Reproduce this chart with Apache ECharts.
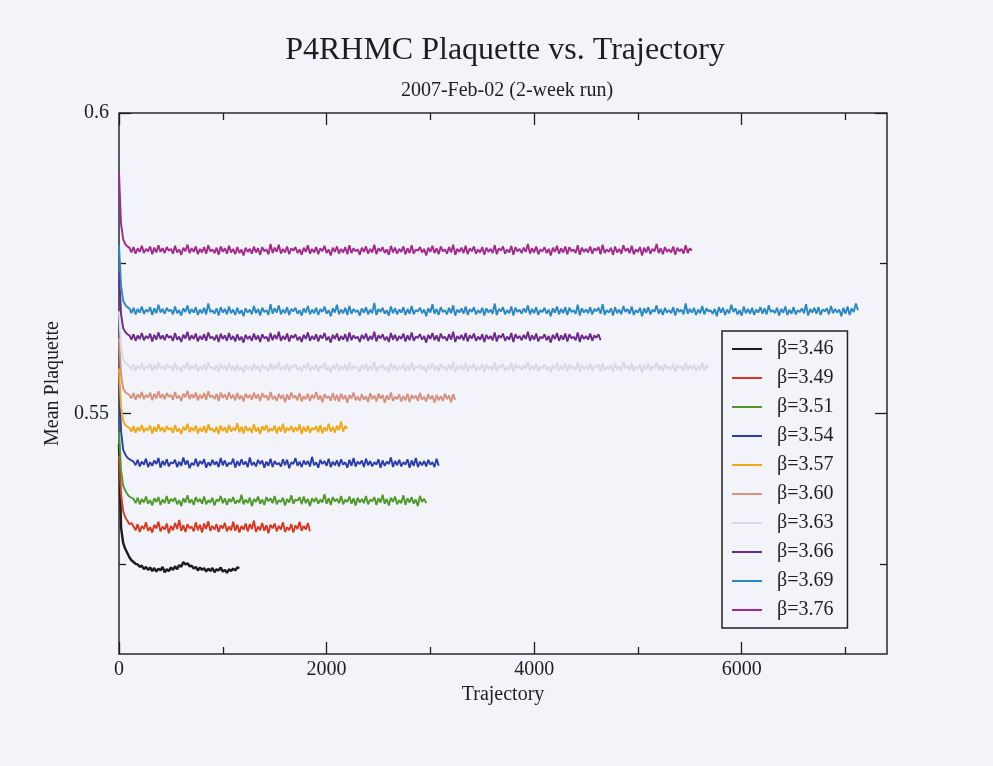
<!DOCTYPE html>
<html><head><meta charset="utf-8">
<script src="https://cdn.jsdelivr.net/npm/echarts@6/dist/echarts.min.js"></script>
<style>html,body{margin:0;padding:0;background:#f3f4f9;}#c{width:993px;height:766px;}</style>
</head><body><div id="c"></div>
<script>
// Trajectory step between stored samples
const STEP = 20;
const seriesNames = ['β=3.46','β=3.49','β=3.51','β=3.54','β=3.57','β=3.60','β=3.63','β=3.66','β=3.69','β=3.76'];
const seriesColors = ['#1c1c1c','#d9381e','#4f9a2c','#2a3cae','#f0a816','#d8917f','#d9d9e6','#6c2a8e','#2b88c6','#a3298c'];

const b346 = [0.5450,0.5310,0.5285,0.5275,0.5268,0.5261,0.5256,0.5253,0.5250,0.5249,0.5245,0.5247,0.5241,0.5245,0.5240,
0.5244,0.5238,0.5243,0.5237,0.5242,0.5239,0.5245,0.5236,0.5241,0.5238,
0.5244,0.5240,0.5246,0.5241,0.5248,0.5245,0.5253,0.5249,0.5251,0.5246,
0.5247,0.5242,0.5245,0.5239,0.5244,0.5240,0.5243,0.5237,0.5242,0.5238,
0.5243,0.5236,0.5241,0.5239,0.5244,0.5237,0.5240,0.5235,0.5241,0.5238,
0.5242,0.5239,0.5244,0.5243];

const b349 = [0.5430,0.5365,0.5338,0.5327,0.5322,0.5316,0.5318,0.5312,
0.5306,0.5316,0.5303,0.5313,0.5308,0.5319,0.5305,0.5311,0.5302,0.5315,
0.5309,0.5320,0.5304,0.5312,0.5307,0.5317,0.5301,0.5313,0.5306,0.5318,
0.5308,0.5323,0.5305,0.5314,0.5303,0.5316,0.5309,0.5312,0.5304,0.5319,
0.5306,0.5315,0.5302,0.5317,0.5308,0.5321,0.5305,0.5313,0.5307,0.5316,
0.5303,0.5314,0.5309,0.5318,0.5304,0.5312,0.5306,0.5320,0.5305,0.5315,
0.5302,0.5313,0.5307,0.5317,0.5304,0.5316,0.5308,0.5322,0.5303,0.5312,
0.5306,0.5318,0.5305,0.5314,0.5301,0.5315,0.5309,0.5317,0.5304,0.5313,
0.5307,0.5319,0.5303,0.5311,0.5306,0.5316,0.5302,0.5314,0.5308,0.5320,
0.5305,0.5313,0.5307,0.5318,0.5304];

const b351 = [0.5470,0.5405,0.5380,0.5372,0.5366,0.5362,0.5360,0.5358,
0.5351,0.5360,0.5349,0.5358,0.5352,0.5362,0.5350,0.5356,0.5347,0.5359,
0.5353,0.5361,0.5348,0.5357,0.5351,0.5363,0.5350,0.5358,0.5354,0.5360,
0.5349,0.5356,0.5346,0.5359,0.5352,0.5364,0.5351,0.5357,0.5348,0.5361,
0.5353,0.5358,0.5350,0.5362,0.5349,0.5356,0.5352,0.5360,0.5347,0.5357,
0.5354,0.5363,0.5351,0.5359,0.5348,0.5358,0.5353,0.5361,0.5350,0.5356,
0.5352,0.5365,0.5349,0.5357,0.5351,0.5360,0.5346,0.5358,0.5353,0.5362,
0.5350,0.5357,0.5348,0.5361,0.5354,0.5359,0.5351,0.5363,0.5349,0.5356,
0.5353,0.5360,0.5347,0.5358,0.5352,0.5364,0.5350,0.5357,0.5355,0.5361,
0.5349,0.5362,0.5351,0.5358,0.5346,0.5359,0.5353,0.5360,0.5350,0.5357,
0.5352,0.5366,0.5350,0.5359,0.5348,0.5361,0.5354,0.5358,0.5351,0.5363,
0.5349,0.5357,0.5353,0.5362,0.5350,0.5359,0.5347,0.5360,0.5352,0.5358,
0.5351,0.5363,0.5349,0.5357,0.5354,0.5361,0.5348,0.5359,0.5352,0.5365,
0.5350,0.5358,0.5347,0.5360,0.5353,0.5362,0.5349,0.5356,0.5351,0.5364,
0.5348,0.5359,0.5352,0.5361,0.5350,0.5357,0.5346,0.5363,0.5353,0.5358,
0.5351];

const b354 = [0.5550,0.5470,0.5440,0.5432,0.5427,0.5424,0.5422,0.5420,
0.5414,0.5423,0.5412,0.5420,0.5415,0.5425,0.5411,0.5419,0.5413,0.5422,
0.5416,0.5426,0.5410,0.5421,0.5414,0.5424,0.5412,0.5419,0.5417,0.5423,
0.5411,0.5420,0.5413,0.5427,0.5415,0.5422,0.5409,0.5418,0.5414,0.5425,
0.5412,0.5421,0.5416,0.5424,0.5410,0.5419,0.5413,0.5423,0.5415,0.5420,
0.5411,0.5426,0.5414,0.5422,0.5412,0.5418,0.5416,0.5425,0.5410,0.5421,
0.5413,0.5424,0.5415,0.5420,0.5411,0.5427,0.5414,0.5419,0.5412,0.5423,
0.5416,0.5422,0.5410,0.5420,0.5413,0.5425,0.5411,0.5421,0.5415,0.5418,
0.5412,0.5424,0.5414,0.5423,0.5409,0.5419,0.5416,0.5426,0.5413,0.5420,
0.5411,0.5422,0.5415,0.5421,0.5412,0.5428,0.5414,0.5419,0.5410,0.5423,
0.5416,0.5421,0.5413,0.5425,0.5411,0.5420,0.5414,0.5422,0.5412,0.5424,
0.5415,0.5419,0.5410,0.5423,0.5413,0.5426,0.5412,0.5420,0.5416,0.5422,
0.5411,0.5425,0.5414,0.5421,0.5412,0.5419,0.5415,0.5424,0.5410,0.5422,
0.5413,0.5420,0.5416,0.5427,0.5411,0.5421,0.5414,0.5423,0.5412,0.5419,
0.5415,0.5424,0.5410,0.5422,0.5413,0.5426,0.5411,0.5420,0.5414,0.5421,
0.5412,0.5423,0.5415,0.5419,0.5411,0.5425,0.5413];

const b357 = [0.5575,0.5510,0.5488,0.5481,0.5478,0.5476,
0.5470,0.5479,0.5468,0.5477,0.5471,0.5481,0.5469,0.5476,0.5472,0.5480,
0.5467,0.5478,0.5470,0.5482,0.5471,0.5477,0.5469,0.5479,0.5473,0.5476,
0.5468,0.5481,0.5470,0.5475,0.5466,0.5478,0.5472,0.5483,0.5469,0.5477,
0.5471,0.5480,0.5467,0.5476,0.5470,0.5479,0.5468,0.5482,0.5472,0.5475,
0.5469,0.5478,0.5466,0.5480,0.5471,0.5477,0.5468,0.5481,0.5470,0.5476,
0.5472,0.5484,0.5469,0.5478,0.5467,0.5479,0.5471,0.5476,0.5468,0.5482,
0.5470,0.5477,0.5466,0.5479,0.5472,0.5481,0.5469,0.5475,0.5471,0.5480,
0.5467,0.5478,0.5470,0.5483,0.5468,0.5476,0.5472,0.5479,0.5469,0.5477,
0.5471,0.5482,0.5466,0.5478,0.5470,0.5480,0.5468,0.5476,0.5473,0.5479,
0.5469,0.5481,0.5467,0.5477,0.5471,0.5483,0.5470,0.5478,0.5468,0.5480,
0.5472,0.5487,0.5470,0.5479,0.5475];

const b360 = [0.5625,0.5565,0.5542,0.5536,0.5533,0.5531,
0.5525,0.5534,0.5523,0.5532,0.5526,0.5536,0.5524,0.5531,0.5527,0.5535,
0.5522,0.5533,0.5525,0.5537,0.5526,0.5532,0.5524,0.5534,0.5528,0.5531,
0.5523,0.5536,0.5525,0.5530,0.5521,0.5533,0.5527,0.5538,0.5524,0.5532,
0.5526,0.5535,0.5522,0.5531,0.5525,0.5534,0.5523,0.5537,0.5527,0.5530,
0.5524,0.5533,0.5521,0.5535,0.5526,0.5532,0.5523,0.5536,0.5525,0.5531,
0.5522,0.5534,0.5524,0.5530,0.5520,0.5533,0.5526,0.5531,0.5523,0.5535,
0.5525,0.5532,0.5521,0.5534,0.5527,0.5530,0.5522,0.5536,0.5524,0.5529,
0.5521,0.5533,0.5525,0.5531,0.5519,0.5532,0.5523,0.5535,0.5526,0.5530,
0.5522,0.5534,0.5520,0.5529,0.5524,0.5533,0.5521,0.5531,0.5525,0.5536,
0.5523,0.5530,0.5519,0.5532,0.5526,0.5529,0.5521,0.5534,0.5522,0.5531,
0.5520,0.5533,0.5524,0.5530,0.5518,0.5531,0.5525,0.5535,0.5522,0.5528,
0.5521,0.5532,0.5523,0.5529,0.5519,0.5534,0.5524,0.5530,0.5520,0.5533,
0.5525,0.5531,0.5518,0.5530,0.5523,0.5535,0.5521,0.5528,0.5524,0.5532,
0.5520,0.5529,0.5522,0.5533,0.5519,0.5531,0.5525,0.5530,0.5521,0.5534,
0.5523,0.5528,0.5520,0.5532,0.5524,0.5530,0.5518,0.5531,0.5522,0.5529,
0.5521,0.5533,0.5524,0.5530,0.5519,0.5532,0.5523];

const b363 = [0.5670,0.5610,0.5590,0.5584,0.5581,0.5579,
0.5573,0.5582,0.5571,0.5580,0.5574,0.5584,0.5572,0.5579,0.5575,0.5583,
0.5570,0.5581,0.5573,0.5585,0.5574,0.5580,0.5572,0.5582,0.5576,0.5579,
0.5571,0.5584,0.5573,0.5578,0.5569,0.5581,0.5575,0.5586,0.5572,0.5580,
0.5574,0.5583,0.5570,0.5579,0.5573,0.5582,0.5571,0.5585,0.5575,0.5578,
0.5572,0.5581,0.5569,0.5583,0.5574,0.5580,0.5571,0.5584,0.5573,0.5579,
0.5570,0.5582,0.5572,0.5578,0.5568,0.5581,0.5574,0.5579,0.5571,0.5583,
0.5573,0.5580,0.5569,0.5582,0.5575,0.5578,0.5570,0.5584,0.5572,0.5581,
0.5574,0.5586,0.5571,0.5579,0.5573,0.5583,0.5570,0.5580,0.5576,0.5582,
0.5572,0.5578,0.5569,0.5581,0.5574,0.5585,0.5571,0.5579,0.5573,0.5582,
0.5570,0.5580,0.5575,0.5584,0.5572,0.5578,0.5568,0.5581,0.5574,0.5583,
0.5571,0.5579,0.5573,0.5582,0.5570,0.5585,0.5572,0.5580,0.5575,0.5578,
0.5569,0.5581,0.5574,0.5583,0.5571,0.5579,0.5573,0.5586,0.5570,0.5580,
0.5575,0.5582,0.5572,0.5578,0.5569,0.5584,0.5573,0.5581,0.5571,0.5579,
0.5574,0.5583,0.5570,0.5580,0.5572,0.5585,0.5571,0.5578,0.5576,0.5582,
0.5573,0.5579,0.5568,0.5581,0.5574,0.5584,0.5572,0.5580,0.5570,0.5583,
0.5575,0.5578,0.5571,0.5582,0.5573,0.5586,0.5569,0.5579,0.5574,0.5581,
0.5572,0.5584,0.5570,0.5580,0.5575,0.5583,0.5571,0.5578,0.5573,0.5582,
0.5569,0.5581,0.5574,0.5579,0.5572,0.5585,0.5570,0.5580,0.5576,0.5583,
0.5571,0.5578,0.5573,0.5584,0.5569,0.5582,0.5575,0.5579,0.5572,0.5581,
0.5574,0.5586,0.5571,0.5580,0.5573,0.5583,0.5570,0.5578,0.5575,0.5582,
0.5572,0.5579,0.5568,0.5581,0.5574,0.5584,0.5571,0.5580,0.5573,0.5583,
0.5570,0.5582,0.5575,0.5578,0.5572,0.5585,0.5569,0.5581,0.5574,0.5579,
0.5573,0.5583,0.5571,0.5580,0.5576,0.5582,0.5570,0.5584,0.5572,0.5578,
0.5574,0.5581,0.5569,0.5583,0.5573,0.5579,0.5571,0.5586,0.5575,0.5580,
0.5572,0.5584,0.5570,0.5578,0.5574,0.5582,0.5568,0.5581,0.5573,0.5583,
0.5571,0.5579,0.5575,0.5585,0.5572,0.5580,0.5570,0.5582,0.5574,0.5578,
0.5573,0.5583,0.5569,0.5581,0.5575,0.5579,0.5571,0.5584,0.5572,0.5580,
0.5574,0.5582,0.5570,0.5579,0.5573,0.5585,0.5571,0.5581,0.5576];

const b366 = [0.5735,0.5665,0.5642,0.5636,0.5632,0.5630,
0.5623,0.5632,0.5621,0.5630,0.5624,0.5634,0.5622,0.5629,0.5625,0.5633,
0.5620,0.5631,0.5623,0.5635,0.5624,0.5630,0.5622,0.5632,0.5626,0.5629,
0.5621,0.5634,0.5623,0.5628,0.5619,0.5631,0.5625,0.5636,0.5622,0.5630,
0.5624,0.5633,0.5620,0.5629,0.5623,0.5632,0.5621,0.5635,0.5625,0.5628,
0.5622,0.5631,0.5619,0.5633,0.5624,0.5630,0.5621,0.5634,0.5623,0.5629,
0.5620,0.5632,0.5622,0.5628,0.5618,0.5631,0.5624,0.5629,0.5621,0.5633,
0.5623,0.5630,0.5619,0.5632,0.5625,0.5628,0.5620,0.5634,0.5622,0.5631,
0.5624,0.5636,0.5621,0.5629,0.5623,0.5633,0.5620,0.5630,0.5626,0.5632,
0.5622,0.5628,0.5619,0.5631,0.5624,0.5635,0.5621,0.5629,0.5623,0.5632,
0.5620,0.5630,0.5625,0.5634,0.5622,0.5628,0.5618,0.5631,0.5624,0.5633,
0.5621,0.5629,0.5623,0.5632,0.5620,0.5635,0.5622,0.5630,0.5625,0.5628,
0.5619,0.5631,0.5624,0.5633,0.5621,0.5629,0.5623,0.5636,0.5620,0.5630,
0.5625,0.5632,0.5622,0.5628,0.5619,0.5634,0.5623,0.5631,0.5621,0.5629,
0.5624,0.5633,0.5620,0.5630,0.5622,0.5635,0.5621,0.5628,0.5626,0.5632,
0.5623,0.5629,0.5618,0.5631,0.5624,0.5634,0.5622,0.5630,0.5620,0.5633,
0.5625,0.5628,0.5621,0.5632,0.5623,0.5636,0.5619,0.5629,0.5624,0.5631,
0.5622,0.5634,0.5620,0.5630,0.5625,0.5633,0.5621,0.5628,0.5623,0.5632,
0.5619,0.5631,0.5624,0.5629,0.5622,0.5635,0.5620,0.5630,0.5626,0.5633,
0.5621,0.5628,0.5623,0.5634,0.5619,0.5632,0.5625,0.5629,0.5622,0.5631,
0.5624,0.5636,0.5621,0.5630,0.5623,0.5633,0.5620,0.5628,0.5625,0.5632,
0.5622,0.5629,0.5618,0.5631,0.5624,0.5634,0.5621,0.5630,0.5623,0.5633,
0.5620,0.5632,0.5625,0.5628,0.5622,0.5635,0.5619,0.5631,0.5624,0.5629,
0.5623,0.5633,0.5621,0.5630,0.5626,0.5632,0.5622];

const b369 = [0.5780,0.5712,0.5688,0.5681,0.5677,0.5675,
0.5667,0.5676,0.5665,0.5674,0.5668,0.5678,0.5666,0.5673,0.5669,0.5677,
0.5664,0.5675,0.5667,0.5681,0.5668,0.5674,0.5666,0.5676,0.5670,0.5673,
0.5665,0.5678,0.5667,0.5672,0.5663,0.5675,0.5669,0.5680,0.5666,0.5674,
0.5668,0.5677,0.5664,0.5673,0.5667,0.5676,0.5665,0.5683,0.5669,0.5672,
0.5666,0.5675,0.5663,0.5677,0.5668,0.5674,0.5665,0.5678,0.5667,0.5673,
0.5664,0.5676,0.5666,0.5672,0.5662,0.5675,0.5668,0.5673,0.5665,0.5679,
0.5667,0.5674,0.5663,0.5676,0.5669,0.5672,0.5664,0.5682,0.5666,0.5675,
0.5668,0.5680,0.5665,0.5673,0.5667,0.5677,0.5664,0.5674,0.5670,0.5676,
0.5666,0.5672,0.5663,0.5675,0.5668,0.5679,0.5665,0.5673,0.5667,0.5676,
0.5664,0.5674,0.5669,0.5678,0.5666,0.5672,0.5662,0.5675,0.5668,0.5681,
0.5665,0.5673,0.5667,0.5676,0.5664,0.5679,0.5666,0.5674,0.5669,0.5672,
0.5663,0.5675,0.5668,0.5677,0.5665,0.5673,0.5667,0.5684,0.5664,0.5674,
0.5669,0.5676,0.5666,0.5672,0.5663,0.5678,0.5667,0.5675,0.5665,0.5673,
0.5668,0.5677,0.5664,0.5674,0.5666,0.5679,0.5665,0.5672,0.5670,0.5676,
0.5667,0.5673,0.5662,0.5675,0.5668,0.5682,0.5666,0.5674,0.5664,0.5677,
0.5669,0.5672,0.5665,0.5676,0.5667,0.5680,0.5663,0.5673,0.5668,0.5675,
0.5666,0.5678,0.5664,0.5674,0.5669,0.5677,0.5665,0.5672,0.5667,0.5676,
0.5663,0.5675,0.5668,0.5673,0.5666,0.5683,0.5664,0.5674,0.5670,0.5677,
0.5665,0.5672,0.5667,0.5678,0.5663,0.5676,0.5669,0.5673,0.5666,0.5675,
0.5668,0.5680,0.5665,0.5674,0.5667,0.5677,0.5664,0.5672,0.5669,0.5676,
0.5666,0.5673,0.5662,0.5675,0.5668,0.5678,0.5665,0.5674,0.5667,0.5677,
0.5664,0.5676,0.5669,0.5672,0.5666,0.5681,0.5663,0.5675,0.5668,0.5673,
0.5667,0.5677,0.5665,0.5674,0.5670,0.5676,0.5666,0.5682,0.5664,0.5672,
0.5668,0.5675,0.5663,0.5677,0.5667,0.5673,0.5665,0.5679,0.5669,0.5674,
0.5666,0.5678,0.5664,0.5672,0.5668,0.5676,0.5662,0.5675,0.5667,0.5677,
0.5665,0.5673,0.5669,0.5680,0.5666,0.5674,0.5664,0.5676,0.5668,0.5672,
0.5667,0.5677,0.5663,0.5675,0.5669,0.5673,0.5665,0.5683,0.5666,0.5674,
0.5668,0.5676,0.5664,0.5673,0.5667,0.5679,0.5665,0.5675,0.5670,0.5672,
0.5666,0.5674,0.5662,0.5677,0.5668,0.5676,0.5664,0.5673,0.5667,0.5681,
0.5669,0.5675,0.5665,0.5672,0.5663,0.5678,0.5667,0.5674,0.5666,0.5676,
0.5664,0.5673,0.5668,0.5677,0.5666,0.5675,0.5665,0.5680,0.5669,0.5672,
0.5667,0.5676,0.5663,0.5674,0.5668,0.5678,0.5664,0.5673,0.5666,0.5677,
0.5665,0.5672,0.5669,0.5675,0.5667,0.5682,0.5663,0.5674,0.5668,0.5676,
0.5666,0.5677,0.5664,0.5673,0.5670,0.5675,0.5665,0.5679,0.5667,0.5674,
0.5668,0.5673,0.5662,0.5676,0.5666,0.5678,0.5664,0.5675,0.5669,0.5683,
0.5672];

const b376 = [0.5900,0.5815,0.5790,0.5782,0.5778,0.5776,
0.5768,0.5777,0.5766,0.5775,0.5769,0.5779,0.5767,0.5774,0.5770,0.5778,
0.5765,0.5776,0.5768,0.5780,0.5769,0.5775,0.5767,0.5777,0.5771,0.5774,
0.5766,0.5779,0.5768,0.5773,0.5764,0.5776,0.5770,0.5781,0.5767,0.5775,
0.5769,0.5778,0.5765,0.5774,0.5768,0.5777,0.5766,0.5780,0.5770,0.5773,
0.5767,0.5776,0.5764,0.5778,0.5769,0.5775,0.5766,0.5779,0.5768,0.5774,
0.5765,0.5777,0.5767,0.5773,0.5763,0.5776,0.5769,0.5774,0.5766,0.5778,
0.5768,0.5775,0.5764,0.5777,0.5770,0.5773,0.5765,0.5782,0.5767,0.5776,
0.5769,0.5781,0.5766,0.5774,0.5768,0.5778,0.5765,0.5775,0.5771,0.5777,
0.5767,0.5773,0.5764,0.5776,0.5769,0.5780,0.5766,0.5774,0.5768,0.5777,
0.5765,0.5775,0.5770,0.5779,0.5767,0.5773,0.5763,0.5776,0.5769,0.5778,
0.5766,0.5774,0.5768,0.5777,0.5765,0.5780,0.5767,0.5775,0.5770,0.5773,
0.5764,0.5776,0.5769,0.5778,0.5766,0.5774,0.5768,0.5781,0.5765,0.5775,
0.5770,0.5777,0.5767,0.5773,0.5764,0.5779,0.5768,0.5776,0.5766,0.5774,
0.5769,0.5778,0.5765,0.5775,0.5767,0.5780,0.5766,0.5773,0.5771,0.5777,
0.5768,0.5774,0.5763,0.5776,0.5769,0.5779,0.5767,0.5775,0.5765,0.5778,
0.5770,0.5773,0.5766,0.5777,0.5768,0.5781,0.5764,0.5774,0.5769,0.5776,
0.5767,0.5779,0.5765,0.5775,0.5770,0.5778,0.5766,0.5773,0.5768,0.5777,
0.5764,0.5776,0.5769,0.5774,0.5767,0.5780,0.5765,0.5775,0.5771,0.5778,
0.5766,0.5773,0.5768,0.5779,0.5764,0.5777,0.5770,0.5774,0.5767,0.5776,
0.5769,0.5782,0.5766,0.5775,0.5768,0.5778,0.5765,0.5773,0.5770,0.5777,
0.5767,0.5774,0.5763,0.5776,0.5769,0.5779,0.5766,0.5775,0.5768,0.5778,
0.5765,0.5777,0.5770,0.5773,0.5767,0.5780,0.5764,0.5776,0.5769,0.5774,
0.5768,0.5778,0.5766,0.5775,0.5771,0.5777,0.5765,0.5781,0.5767,0.5773,
0.5769,0.5776,0.5764,0.5778,0.5768,0.5774,0.5766,0.5780,0.5770,0.5775,
0.5767,0.5779,0.5765,0.5773,0.5769,0.5777,0.5763,0.5776,0.5768,0.5778,
0.5766,0.5774,0.5770,0.5782,0.5767,0.5775,0.5765,0.5777,0.5769,0.5773,
0.5768,0.5778,0.5764,0.5776,0.5770,0.5774,0.5766,0.5780,0.5767,0.5775,
0.5771];

const allValues = [b346,b349,b351,b354,b357,b360,b363,b366,b369,b376];

const xLabelTicks = [0, 2000, 4000, 6000];
const xMinorTicks = [1000, 3000, 5000, 7000];
const yLabelTicks = [0.55, 0.6];
const yMinorTicks = [0.525, 0.575];

const FONT = 'Liberation Serif';
const INK = '#1e1e1e';
const X_MIN = 0, X_MAX = 7400, Y_MIN = 0.51, Y_MAX = 0.6;

function xAx(pos, showLabel, ticks, len, extra) {
  return Object.assign({
    type: 'value', position: pos, min: X_MIN, max: X_MAX, gridIndex: 0,
    axisLine: { show: false, onZero: false },
    splitLine: { show: false },
    axisTick: { show: true, inside: true, length: len, customValues: ticks, lineStyle: { color: INK, width: 1.3 } },
    axisLabel: showLabel ? { show: true, customValues: ticks, color: INK, fontFamily: FONT, fontSize: 20, margin: 6,
      formatter: v => String(Math.round(v)) } : { show: false }
  }, extra || {});
}
function yAx(pos, showLabel, ticks, len, extra) {
  return Object.assign({
    type: 'value', position: pos, min: Y_MIN, max: Y_MAX, gridIndex: 0,
    axisLine: { show: false, onZero: false },
    splitLine: { show: false },
    axisTick: { show: true, inside: true, length: len, customValues: ticks, lineStyle: { color: INK, width: 1.3 } },
    axisLabel: showLabel ? { show: true, customValues: ticks, color: INK, fontFamily: FONT, fontSize: 20, margin: 10,
      formatter: v => String(+(+v).toFixed(3)) } : { show: false }
  }, extra || {});
}

const chart = echarts.init(document.getElementById('c'), null, { renderer: 'canvas' });
chart.setOption({
  backgroundColor: '#f3f4f9',
  animation: false,
  title: [
    { text: 'P4RHMC Plaquette vs. Trajectory', left: 500, top: 30, textAlign: 'center',
      textStyle: { fontFamily: FONT, fontSize: 32, fontWeight: 'normal', color: INK } },
    { text: '2007-Feb-02 (2-week run)', left: 502, top: 76, textAlign: 'center',
      textStyle: { fontFamily: FONT, fontSize: 20, fontWeight: 'normal', color: INK } }
  ],
  grid: { left: 119, right: 106, top: 113, bottom: 112, show: true, borderColor: '#2a2a2a', borderWidth: 1.5, backgroundColor: 'transparent' },
  legend: {
    orient: 'vertical', left: 722, top: 331,
    data: seriesNames,
    icon: 'rect',
    backgroundColor: 'transparent',
    borderColor: '#222', borderWidth: 1.5, borderRadius: 0,
    padding: [8, 14, 8, 10],
    itemWidth: 30, itemHeight: 2, itemGap: 9,
    textStyle: { fontFamily: FONT, fontSize: 20, color: INK, padding: [0, 0, 0, 10] }
  },
  xAxis: [
    xAx('bottom', true, xLabelTicks, 12, { name: 'Trajectory', nameLocation: 'middle', nameGap: 26,
      nameTextStyle: { fontFamily: FONT, fontSize: 20, color: INK } }),
    xAx('bottom', false, xMinorTicks, 7),
    xAx('top', false, xLabelTicks, 12),
    xAx('top', false, xMinorTicks, 7)
  ],
  yAxis: [
    yAx('left', true, yLabelTicks, 12, { name: 'Mean Plaquette', nameLocation: 'middle', nameGap: 51, nameRotate: 90,
      nameTextStyle: { fontFamily: FONT, fontSize: 20, color: INK } }),
    yAx('left', false, yMinorTicks, 7),
    yAx('right', false, yLabelTicks, 12),
    yAx('right', false, yMinorTicks, 7)
  ],
  series: allValues.map((vals, k) => ({
    name: seriesNames[k],
    type: 'line',
    xAxisIndex: 0, yAxisIndex: 0,
    symbol: 'none',
    color: seriesColors[k],
    lineStyle: { width: k === 0 ? 2.4 : 1.9, color: seriesColors[k] },
    data: vals.map((v, i) => [i * STEP, v])
  }))
});
</script></body></html>
